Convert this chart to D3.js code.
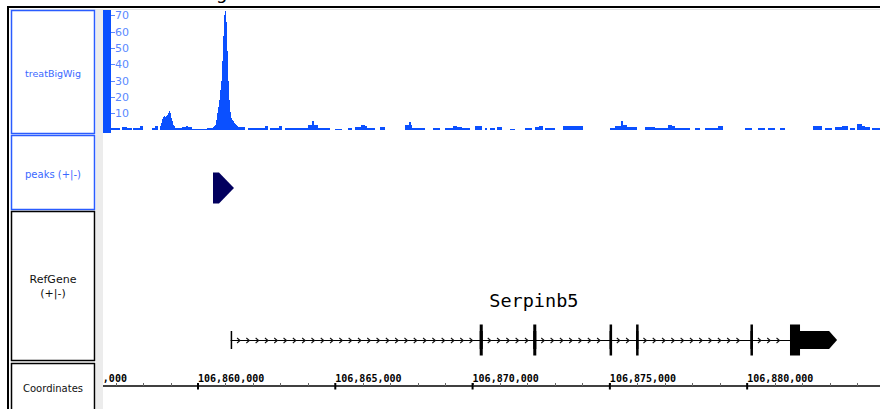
<!DOCTYPE html>
<html>
<head>
<meta charset="utf-8">
<script src="https://cdn.jsdelivr.net/npm/d3@7"></script>
<style>
	body { margin: 0; background: #fff; }
	svg { display: block; font-family: "DejaVu Sans", sans-serif; }
</style>
</head>
<body>
<div id="chart"></div>
<script>
// visible window (bp) and tick labels
var viewStart = 106856540,
	viewEnd = 106884838;
var coordMajor = [106855000, 106860000, 106865000, 106870000, 106875000, 106880000];
var signalTicks = [10, 20, 30, 40, 50, 60, 70];
var signalMax = 73.2;

// treatBigWig coverage, bp offsets from signalOrigin: [start, end, value]
var signalOrigin = 106856000;
var bgSegments = [
	[831, 1160, 0.8], [1232, 1420, 1.5], [1420, 1596, 1], [1633, 1900, 1.2], [1900, 1997, 2.5],
	[2325, 2450, 1], [2450, 2543, 2.2], [3162, 3417, 1], [3417, 3563, 1.5], [3563, 3650, 2.5],
	[3650, 3781, 1.5], [3781, 4327, 0.6], [4327, 4546, 1.2], [5384, 5711, 1.5], [5821, 6185, 1],
	[6185, 6440, 1.2], [6440, 6549, 2], [6622, 6950, 1], [6950, 7059, 2.5], [7169, 8006, 1],
	[8006, 8152, 3], [8152, 8220, 5], [8220, 8370, 3], [8370, 8807, 1], [8989, 9244, 0.6],
	[9463, 9608, 1], [9718, 9950, 1.5], [9950, 10082, 3], [10082, 10155, 2], [10155, 10447, 1],
	[10629, 10811, 1.5], [11540, 11680, 3], [11680, 11760, 4.5], [11760, 11795, 3], [11795, 12268, 1],
	[12560, 12815, 1], [12997, 13300, 1], [13300, 13450, 2.5], [13450, 13616, 1.5], [13616, 13907, 1],
	[14089, 14344, 2.5], [14454, 14527, 1], [14636, 14818, 1], [14891, 15073, 1.5], [15364, 15546, 0.6],
	[15910, 16165, 1], [16275, 16420, 1.5], [16420, 16566, 2.5], [16639, 17003, 1], [17294, 18023, 2],
	[19006, 19188, 1], [19188, 19400, 2], [19400, 19480, 5.5], [19480, 19625, 3], [19625, 19989, 1.5],
	[20280, 20645, 1.5], [20645, 21118, 1.2], [21118, 21250, 3], [21250, 21373, 2], [21373, 21919, 1],
	[22101, 22283, 1], [22465, 22939, 1], [22939, 23121, 2.5], [23922, 24177, 1], [24396, 24651, 1],
	[24760, 25015, 1], [25197, 25379, 1], [26399, 26727, 2.5], [26836, 27091, 1], [27201, 27456, 1.5],
	[27456, 27674, 2.5], [27747, 27929, 1], [28002, 28200, 3.5], [28200, 28293, 2.5], [28293, 28475, 1.5],
	[28548, 28839, 1]
];
var peakBinBp = 36.4;
var smallPeakStart = 2616,
	smallPeakValues = [2, 4, 6.5, 8, 8.5, 8, 8.5, 9, 10, 11.5, 10, 7, 5, 3, 2];
var bigPeakStart = 4546,
	bigPeakValues = [1.5, 2, 3, 6, 10, 14, 18, 24, 30, 42, 57, 70, 72.5, 66, 48, 30, 18, 11, 7, 6, 5, 4, 3.5, 3, 2];

// peaks (+|-)
var peakStarts = [106860546],
	peakEnds = [106861310];

// RefGene model
var geneName = "Serpinb5";
var exonStarts = [106861190, 106870260, 106872210, 106874990, 106875955, 106880120, 106881560];
var exonEnds = [106861240, 106870370, 106872320, 106875070, 106876040, 106880210, 106883275];
var cdsStart = 106870260,
	cdsEnd = 106881925;

var width = 880, height = 409;
var blue = "#0b50ff", labelBlue = "#3a68ff";

var svg = d3.select("#chart").append("svg")
	.attr("width", width)
	.attr("height", height);

var x = d3.scaleLinear().domain([viewStart, viewEnd]).range([103, 880]);
var y = d3.scaleLinear().domain([0, signalMax]).range([129.6, 10]);

svg.append("defs").append("clipPath").attr("id", "dataClip")
	.append("rect").attr("x", 103).attr("y", 9).attr("width", 777).attr("height", 400);

// cut-off title above the frame
svg.append("text").attr("x", 216).attr("y", -1.5)
	.attr("font-size", 18).text("g");

// frame
svg.append("rect").attr("x", 96).attr("y", 9).attr("width", 7).attr("height", 400).attr("fill", "#ececec");
svg.append("line").attr("x1", 8).attr("x2", 880).attr("y1", 9.5).attr("y2", 9.5).attr("stroke", "#e4e4e4");
svg.append("line").attr("x1", 7).attr("x2", 880).attr("y1", 7).attr("y2", 7).attr("stroke", "#000").attr("stroke-width", 2);
svg.append("line").attr("x1", 8).attr("x2", 8).attr("y1", 6).attr("y2", 409).attr("stroke", "#000").attr("stroke-width", 2);

// name panels
var panels = [
	{y0: 10, y1: 133, color: "#2a5cff", lines: ["treatBigWig"], size: 9.5, base: [77]},
	{y0: 135, y1: 209, color: "#2a5cff", lines: ["peaks (+|-)"], size: 10, base: [178]},
	{y0: 211, y1: 360, color: "#000", lines: ["RefGene", "(+|-)"], size: 11, base: [283, 297]},
	{y0: 363, y1: 412, color: "#000", lines: ["Coordinates"], size: 10, base: [392]}
];
panels.forEach(function(p) {
	svg.append("rect")
		.attr("x", 11.5).attr("y", p.y0 + 0.5)
		.attr("width", 83).attr("height", p.y1 - p.y0)
		.attr("fill", "#fff")
		.attr("stroke", p.color).attr("stroke-width", 1.5);
	p.lines.forEach(function(t, i) {
		svg.append("text")
			.attr("x", 53).attr("y", p.base[i])
			.attr("text-anchor", "middle")
			.attr("font-size", p.size)
			.attr("fill", p.color === "#000" ? "#111" : labelBlue)
			.text(t);
	});
});

// data range bar and signal axis
svg.append("rect").attr("x", 103).attr("y", 10).attr("width", 8).attr("height", 123).attr("fill", blue);

var sig = svg.append("g").attr("clip-path", "url(#dataClip)");

var bars = bgSegments.map(function(d) {
	return {s: signalOrigin + d[0], e: signalOrigin + d[1], v: d[2]};
});
[[smallPeakStart, smallPeakValues], [bigPeakStart, bigPeakValues]].forEach(function(pk) {
	pk[1].forEach(function(v, i) {
		var s = signalOrigin + pk[0] + i * peakBinBp;
		bars.push({s: s, e: s + peakBinBp, v: v});
	});
});

sig.selectAll("rect.bar").data(bars).enter().append("rect")
	.attr("class", "bar")
	.attr("x", function(d) { return x(d.s); })
	.attr("width", function(d) { return Math.max(0.8, x(d.e) - x(d.s)); })
	.attr("y", function(d) { return y(d.v); })
	.attr("height", function(d) { return y(0) - y(d.v); })
	.attr("fill", blue)
	.attr("shape-rendering", "crispEdges");

var yAxis = svg.append("g").selectAll("g").data(signalTicks).enter().append("g");
yAxis.append("line")
	.attr("x1", 111).attr("x2", 115)
	.attr("y1", function(d) { return Math.round(y(d)) + 0.5; })
	.attr("y2", function(d) { return Math.round(y(d)) + 0.5; })
	.attr("stroke", "#5a88ff");
yAxis.append("text")
	.attr("x", 115).attr("y", function(d) { return y(d) + 4; })
	.attr("font-size", 11).attr("fill", "#5a88ff")
	.text(function(d) { return d; });

// peaks track
var peakG = svg.append("g");
peakStarts.forEach(function(s, i) {
	var x0 = x(s), x1 = x(peakEnds[i]), cy = 188, h = 15.5;
	peakG.append("path")
		.attr("d", "M" + x0 + "," + (cy - h) + "L" + (x1 - 15) + "," + (cy - h) +
			"L" + x1 + "," + cy + "L" + (x1 - 15) + "," + (cy + h) + "L" + x0 + "," + (cy + h) + "Z")
		.attr("fill", "#02005e");
});

// gene track
var gy = 340, utrH = 9, cdsH = 15.5;
var gene = svg.append("g");
var txStart = exonStarts[0], txEnd = exonEnds[exonEnds.length - 1];

gene.append("line")
	.attr("x1", x(txStart)).attr("x2", x(txEnd) - 10)
	.attr("y1", gy + 0.5).attr("y2", gy + 0.5)
	.attr("stroke", "#000").attr("stroke-width", 1);

// intron chevrons
for (var i = 0; i < exonStarts.length - 1; i++) {
	var a = x(exonEnds[i]) + 4, b = x(exonStarts[i + 1]) - 2;
	for (var cx = a + 4; cx < b; cx += 9.3) {
		gene.append("path")
			.attr("d", "M" + (cx - 3) + "," + (gy - 2) + "L" + cx + "," + (gy + 0.5) + "L" + (cx - 3) + "," + (gy + 3))
			.attr("fill", "none").attr("stroke", "#111").attr("stroke-width", 1.1);
	}
}

exonStarts.forEach(function(s, i) {
	var e = exonEnds[i];
	var last = i === exonStarts.length - 1;
	var x0 = x(s), x1 = Math.max(x(e), x0 + 1.5);
	if (last) {
		gene.append("path")
			.attr("d", "M" + x0 + "," + (gy - utrH) + "L" + (x1 - 8) + "," + (gy - utrH) + "L" + x1 + "," + gy +
				"L" + (x1 - 8) + "," + (gy + utrH) + "L" + x0 + "," + (gy + utrH) + "Z")
			.attr("fill", "#000");
	} else {
		gene.append("rect")
			.attr("x", x0).attr("y", gy - utrH)
			.attr("width", x1 - x0).attr("height", utrH * 2)
			.attr("fill", "#000");
	}
	var cs = Math.max(s, cdsStart), ce = Math.min(e, cdsEnd);
	if (ce > cs) {
		gene.append("rect")
			.attr("x", x(cs)).attr("y", gy - cdsH)
			.attr("width", Math.max(2.5, x(ce) - x(cs))).attr("height", cdsH * 2)
			.attr("fill", "#000");
	}
});

gene.append("text")
	.attr("x", (x(txStart) + x(txEnd)) / 2).attr("y", 307)
	.attr("text-anchor", "middle")
	.attr("font-family", "'DejaVu Sans Mono', monospace")
	.attr("font-size", 18.5)
	.text(geneName);

// coordinate ruler
var ruler = svg.append("g").attr("clip-path", "url(#dataClip)");
var ay = 386;
ruler.append("line").attr("x1", 103).attr("x2", 880).attr("y1", ay).attr("y2", ay)
	.attr("stroke", "#000").attr("stroke-width", 1.5);
var minor = d3.range(Math.ceil(viewStart / 1000) * 1000, viewEnd, 1000);
ruler.selectAll("line.minor").data(minor).enter().append("line")
	.attr("class", "minor")
	.attr("x1", function(d) { return Math.round(x(d)) + 0.5; })
	.attr("x2", function(d) { return Math.round(x(d)) + 0.5; })
	.attr("y1", ay - 3).attr("y2", ay)
	.attr("stroke", "#666");
ruler.selectAll("line.major").data(coordMajor).enter().append("line")
	.attr("class", "major")
	.attr("x1", function(d) { return x(d); })
	.attr("x2", function(d) { return x(d); })
	.attr("y1", ay - 3).attr("y2", ay + 3.5)
	.attr("stroke", "#000").attr("stroke-width", 2);
ruler.selectAll("text").data(coordMajor).enter().append("text")
	.attr("x", function(d) { return x(d); })
	.attr("y", 382)
	.attr("font-family", "'DejaVu Sans Mono', monospace")
	.attr("font-weight", "bold")
	.attr("font-size", 10)
	.text(d3.format(","));
</script>
</body>
</html>
